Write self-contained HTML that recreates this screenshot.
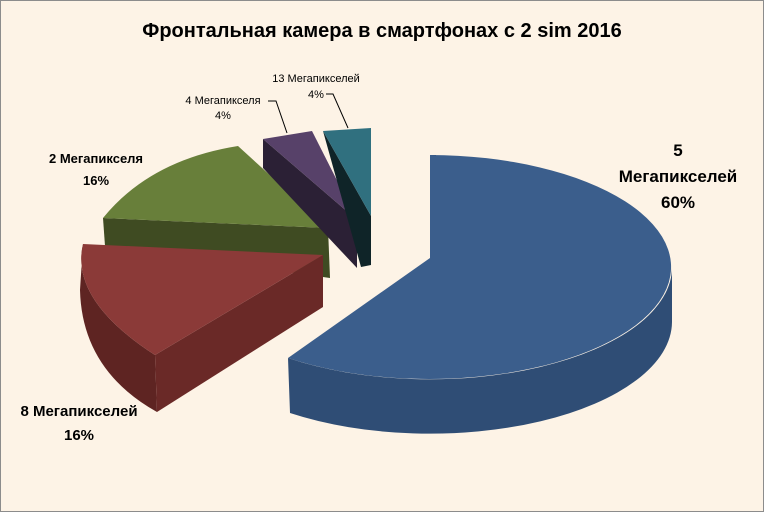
<!DOCTYPE html>
<html><head><meta charset="utf-8"><style>
html,body{margin:0;padding:0;}
body{width:764px;height:512px;background:#fdf3e6;overflow:hidden;}
svg{display:block;font-family:"Liberation Sans","DejaVu Sans",sans-serif;}
</style></head><body>
<svg width="764" height="512" viewBox="0 0 764 512">
<rect x="0.5" y="0.5" width="763" height="511" fill="#fdf3e6" stroke="#8c8c8c"/>
<text x="382" y="37" text-anchor="middle" font-size="20" font-weight="bold" fill="#000">Фронтальная камера в смартфонах с 2 sim 2016</text>

<!-- Blue slice -->
<path d="M672,267 A242,112 0 0 1 288,358 L290,413 A242,112 0 0 0 672,322 Z" fill="#2f4d75"/>
<path d="M430,258 L430,155 L436,155 L436,258 Z" fill="#1a2a40"/>
<path d="M430,258 L430,155 A242,112 0 1 1 288,358 Z" fill="#3b5e8c"/>

<!-- Green slice -->
<path d="M103,218 L328,228 L330,278 L105,246 Z" fill="#3f4b22"/>
<path d="M328,228 L103,218 Q150,160 238,146 Z" fill="#687f3a"/>

<!-- Red slice -->
<path d="M83,244 Q70,300 155,355 L157,412 Q82,370 80,290 Z" fill="#5e2422"/>
<path d="M155,355 L323,255 L323,307 L157,412 Z" fill="#6a2927"/>
<path d="M323,255 L83,244 Q70,300 155,355 Z" fill="#8b3a38"/>

<!-- Purple slice -->
<path d="M263,139 L357,220 L357,268 L263,168 Z" fill="#2b2035"/>
<path d="M263,139 L312,131 L357,220 Z" fill="#574169"/>

<!-- Teal slice -->
<path d="M323,131 L371,216 L371,265 L361,267 Z" fill="#0f2428"/>
<path d="M323,131 L371,128 L371,216 Z" fill="#30707f"/>

<!-- Labels -->
<g font-weight="bold" fill="#000" text-anchor="middle">
<text x="678" y="156" font-size="17">5</text>
<text x="678" y="182" font-size="17">Мегапикселей</text>
<text x="678" y="208" font-size="17">60%</text>
<text x="79" y="416" font-size="15">8 Мегапикселей</text>
<text x="79" y="440" font-size="15">16%</text>
<text x="96" y="163" font-size="13">2 Мегапикселя</text>
<text x="96" y="185" font-size="13">16%</text>
</g>
<g fill="#000" text-anchor="middle" font-size="11">
<text x="223" y="104">4 Мегапикселя</text>
<text x="223" y="119">4%</text>
<text x="316" y="82">13 Мегапикселей</text>
<text x="316" y="98">4%</text>
</g>
<g stroke="#000" stroke-width="1" fill="none">
<path d="M268,101 L276,101 L287,133"/>
<path d="M326,94 L333,94 L348,128"/>
</g>
</svg>
</body></html>
